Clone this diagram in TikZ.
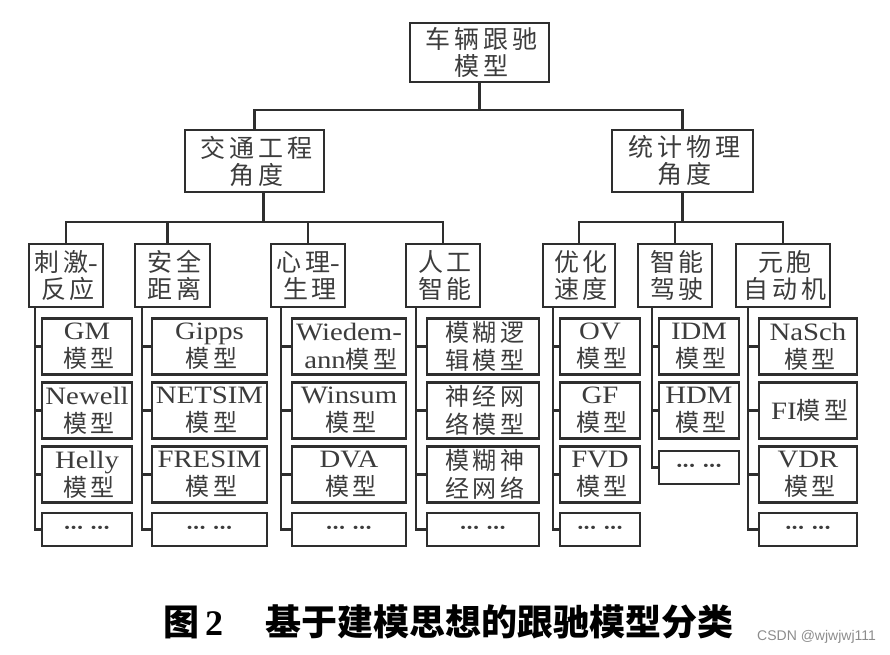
\documentclass[tikz,border=0pt]{standalone}
\usepackage{fontspec}
\setmainfont{Liberation Serif}[FakeStretch=1.15]
\newfontfamily\cjk{Noto Sans CJK SC}[LetterSpace=15]
\newfontfamily\cjkcap{Noto Sans CJK SC}
\newfontfamily\capserif{Liberation Serif}
\newfontfamily\wmfont{Liberation Sans}
\newcommand\C[1]{{\cjk #1\kern-0.15em}}
\newcommand\Cn[1]{{\cjk #1}}
\newcommand\Cs[1]{{\cjk\fontsize{24}{28}\selectfont #1\kern-0.15em}}
\newcommand\dotsrow{{\fontsize{14}{14}\selectfont •\kern0.8pt•\kern0.8pt•\hspace{8pt}•\kern0.8pt•\kern0.8pt•}}
\definecolor{ink}{HTML}{2E2E2E}
\definecolor{txt}{HTML}{3C3C3C}
\begin{document}
\begin{tikzpicture}[x=1pt,y=-1pt,
  box/.style={draw=ink, line width=2.6pt, inner sep=0pt, align=center, text=txt},
  hd/.style={box, font=\fontsize{25}{27}\selectfont},
  leaf/.style={box, font=\fontsize{25}{28}\selectfont, minimum height=56},
  dots/.style={box, minimum height=33},
  conn/.style={draw=ink, line width=2.5pt}]
\useasboundingbox (0,0) rectangle (890,654);

% root and level 1
\node[hd, minimum width=139, minimum height=59] (root) at (479.5,52.5) {\C{车辆跟驰}\\\C{模型}};
\node[hd, minimum width=139, minimum height=62] (L1a) at (254.5,161) {\C{交通工程}\\\C{角度}};
\node[hd, minimum width=141, minimum height=62] (L1b) at (682.5,161) {\C{统计物理}\\\C{角度}};

% level 2
\node[hd, minimum width=74, minimum height=63] (c1) at (66,275.5) {\Cn{刺激}-\\\C{反应}};
\node[hd, minimum width=75, minimum height=63] (c2) at (172.5,275.5) {\C{安全}\\\C{距离}};
\node[hd, minimum width=74, minimum height=63] (c3) at (308,275.5) {\Cn{心理}-\\\C{生理}};
\node[hd, minimum width=74, minimum height=63] (c4) at (443,275.5) {\C{人工}\\\C{智能}};
\node[hd, minimum width=72, minimum height=63] (c5) at (579,275.5) {\C{优化}\\\C{速度}};
\node[hd, minimum width=74, minimum height=63] (c6) at (675,275.5) {\C{智能}\\\C{驾驶}};
\node[hd, minimum width=94, minimum height=63] (c7) at (783,275.5) {\C{元胞}\\\C{自动机}};

% leaves column 1
\node[leaf, minimum width=90] (l11) at (87,346.5) {GM\\\Cs{模型}};
\node[leaf, minimum width=90] (l12) at (87,410.5) {Newell\\\Cs{模型}};
\node[leaf, minimum width=90] (l13) at (87,474.5) {Helly\\\Cs{模型}};
\node[dots, minimum width=90] (l14) at (87,529.5) {\dotsrow};
% column 2
\node[leaf, minimum width=115] (l21) at (209.5,346.5) {Gipps\\\Cs{模型}};
\node[leaf, minimum width=115] (l22) at (209.5,410.5) {NETSIM\\\Cs{模型}};
\node[leaf, minimum width=115] (l23) at (209.5,474.5) {FRESIM\\\Cs{模型}};
\node[dots, minimum width=115] (l24) at (209.5,529.5) {\dotsrow};
% column 3
\node[leaf, minimum width=114] (l31) at (349,346.5) {Wiedem-\\ann\Cs{模型}};
\node[leaf, minimum width=114] (l32) at (349,410.5) {Winsum\\\Cs{模型}};
\node[leaf, minimum width=114] (l33) at (349,474.5) {DVA\\\Cs{模型}};
\node[dots, minimum width=114] (l34) at (349,529.5) {\dotsrow};
% column 4
\node[leaf, minimum width=112] (l41) at (483,346.5) {\Cs{模糊逻}\\\Cs{辑模型}};
\node[leaf, minimum width=112] (l42) at (483,410.5) {\Cs{神经网}\\\Cs{络模型}};
\node[leaf, minimum width=112] (l43) at (483,474.5) {\Cs{模糊神}\\\Cs{经网络}};
\node[dots, minimum width=112] (l44) at (483,529.5) {\dotsrow};
% column 5
\node[leaf, minimum width=80] (l51) at (600,346.5) {OV\\\Cs{模型}};
\node[leaf, minimum width=80] (l52) at (600,410.5) {GF\\\Cs{模型}};
\node[leaf, minimum width=80] (l53) at (600,474.5) {FVD\\\Cs{模型}};
\node[dots, minimum width=80] (l54) at (600,529.5) {\dotsrow};
% column 6
\node[leaf, minimum width=80] (l61) at (699,346.5) {IDM\\\Cs{模型}};
\node[leaf, minimum width=80] (l62) at (699,410.5) {HDM\\\Cs{模型}};
\node[dots, minimum width=80] (l63) at (699,467.5) {\dotsrow};
% column 7
\node[leaf, minimum width=98] (l71) at (808,346.5) {NaSch\\\Cs{模型}};
\node[leaf, minimum width=98] (l72) at (808,410.5) {FI\Cs{模型}};
\node[leaf, minimum width=98] (l73) at (808,474.5) {VDR\\\Cs{模型}};
\node[dots, minimum width=98] (l74) at (808,529.5) {\dotsrow};

% bus levels
\coordinate (b1) at (0,110);
\coordinate (b2) at (0,222);
\draw[conn] (root.south) -- (root.south |- b1);
\draw[conn] (L1a.north) |- (L1b.north |- b1) -- (L1b.north);
\draw[conn] ([xshift=9]L1a.south) -- ([xshift=9]L1a.south |- b2);
\draw[conn] (c1.north) |- (c4.north |- b2) -- (c4.north);
\draw[conn] ([xshift=-5]c2.north) -- ([xshift=-5]c2.north |- b2);
\draw[conn] (c3.north) -- (c3.north |- b2);
\draw[conn] (L1b.south) -- (L1b.south |- b2);
\draw[conn] (c5.north) |- (c7.north |- b2) -- (c7.north);
\draw[conn] (c6.north) -- (c6.north |- b2);

% spines
\coordinate (s1) at (35,0);
\coordinate (s2) at (142,0);
\coordinate (s3) at (281,0);
\coordinate (s4) at (416,0);
\coordinate (s5) at (553,0);
\coordinate (s6) at (652,0);
\coordinate (s7) at (748,0);
\draw[conn] (c1.south -| s1) |- (l14.west);
\foreach \n in {l11,l12,l13} \draw[conn] (\n.west) -- (\n.west -| s1);
\draw[conn] (c2.south -| s2) |- (l24.west);
\foreach \n in {l21,l22,l23} \draw[conn] (\n.west) -- (\n.west -| s2);
\draw[conn] (c3.south -| s3) |- (l34.west);
\foreach \n in {l31,l32,l33} \draw[conn] (\n.west) -- (\n.west -| s3);
\draw[conn] (c4.south -| s4) |- (l44.west);
\foreach \n in {l41,l42,l43} \draw[conn] (\n.west) -- (\n.west -| s4);
\draw[conn] (c5.south -| s5) |- (l54.west);
\foreach \n in {l51,l52,l53} \draw[conn] (\n.west) -- (\n.west -| s5);
\draw[conn] (c6.south -| s6) |- (l63.west);
\foreach \n in {l61,l62} \draw[conn] (\n.west) -- (\n.west -| s6);
\draw[conn] (c7.south -| s7) |- (l74.west);
\foreach \n in {l71,l72,l73} \draw[conn] (\n.west) -- (\n.west -| s7);

% caption
\node[font=\fontsize{36}{36}\selectfont\bfseries, anchor=west, inner sep=0pt] (cap1) at (163,622) {{\cjkcap 图}\,{\capserif 2}};
\node[font=\fontsize{36}{36}\selectfont\bfseries, anchor=west, inner sep=0pt] (cap2) at (265,622) {{\cjkcap 基于建模思想的跟驰模型分类}};
\node[font=\wmfont\fontsize{14}{14}\selectfont, text=black!45, anchor=west, inner sep=0pt] (wm) at (757,637) {CSDN @wjwjwj111};
\end{tikzpicture}
\end{document}
